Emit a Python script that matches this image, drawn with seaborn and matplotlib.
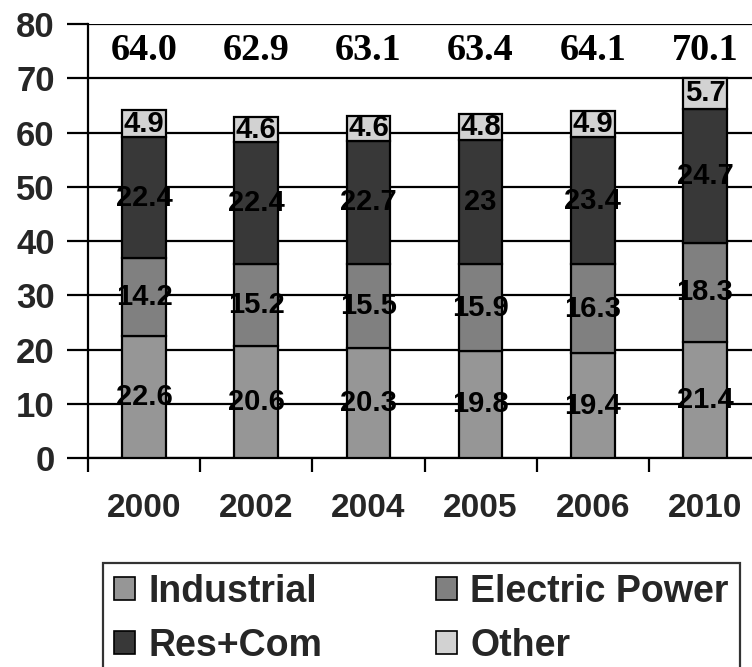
import matplotlib
matplotlib.use("Agg")
import matplotlib.pyplot as plt
from matplotlib.patches import Patch
from matplotlib.ticker import FixedLocator
import seaborn as sns
import numpy as np

# Natural gas consumption by sector
years = ["2000", "2002", "2004", "2005", "2006", "2010"]
industrial = [22.6, 20.6, 20.3, 19.8, 19.4, 21.4]
electric_power = [14.2, 15.2, 15.5, 15.9, 16.3, 18.3]
res_com = [22.4, 22.4, 22.7, 23.0, 23.4, 24.7]
other = [4.9, 4.6, 4.6, 4.8, 4.9, 5.7]
totals = [64.0, 62.9, 63.1, 63.4, 64.1, 70.1]

series = [
    ("Industrial", industrial, "#969696"),
    ("Electric Power", electric_power, "#808080"),
    ("Res+Com", res_com, "#383838"),
    ("Other", other, "#d2d2d2"),
]

sns.set_style("white")
plt.rcParams["font.family"] = ["Liberation Sans", "DejaVu Sans"]

fig = plt.figure(figsize=(7.52, 6.67), dpi=100)
ax = fig.add_axes([0.117, 0.313, 0.895, 0.651])

bottom = np.zeros(len(years))
for name, vals, col in series:
    vals = np.asarray(vals, dtype=float)
    sns.barplot(x=years, y=vals, bottom=bottom, color=col, width=0.39,
                edgecolor="black", linewidth=1.6, saturation=1, ax=ax, zorder=3)
    for i, v in enumerate(vals):
        ax.text(i, bottom[i] + v / 2, f"{v:g}", ha="center", va="center",
                fontsize=21, fontweight="bold", color="black", zorder=5)
    bottom = bottom + vals

for i, t in enumerate(totals):
    ax.text(i, 75.2, f"{t:.1f}", ha="center", va="center", fontsize=27.5,
            fontweight="bold", family="Liberation Serif", color="black")

ax.set_xlim(-0.5, len(years) - 0.5)
ax.set_ylim(0, 80)
ax.set_yticks(range(0, 81, 10))
ax.yaxis.grid(True, color="black", linewidth=1.6, zorder=0)
ax.set_axisbelow(True)
ax.set_xlabel("")
ax.set_ylabel("")

for s in ["top", "right"]:
    ax.spines[s].set_visible(False)
for s in ["left", "bottom"]:
    ax.spines[s].set_color("black")
    ax.spines[s].set_linewidth(1.6)

ax.tick_params(axis="y", which="major", left=True, length=15, width=1.6,
               color="black", pad=9, labelsize=25)
ax.xaxis.set_minor_locator(FixedLocator(np.arange(-0.5, len(years), 1.0)))
ax.tick_params(axis="x", which="major", length=0, pad=25, labelsize=24)
ax.tick_params(axis="x", which="minor", bottom=True, length=10, width=1.6,
               color="black", direction="out")
for lab in ax.get_yticklabels() + ax.get_xticklabels():
    lab.set_fontweight("bold")

handles = [Patch(facecolor=c, edgecolor="black", linewidth=1.2, label=n)
           for n, _, c in series]
order = [0, 2, 1, 3]
leg = fig.legend([handles[k] for k in order], [series[k][0] for k in order],
                 ncol=2, loc="lower left", bbox_to_anchor=(0.137, -0.012),
                 prop={"family": "Liberation Sans", "weight": "bold", "size": 27},
                 frameon=True, fancybox=False, edgecolor="black",
                 handlelength=0.55, handleheight=0.55, handletextpad=0.35,
                 columnspacing=3.05, labelspacing=0.48, borderpad=0.3,
                 borderaxespad=0)
leg.get_frame().set_linewidth(1.6)

fig.savefig("out.png", dpi=100)
